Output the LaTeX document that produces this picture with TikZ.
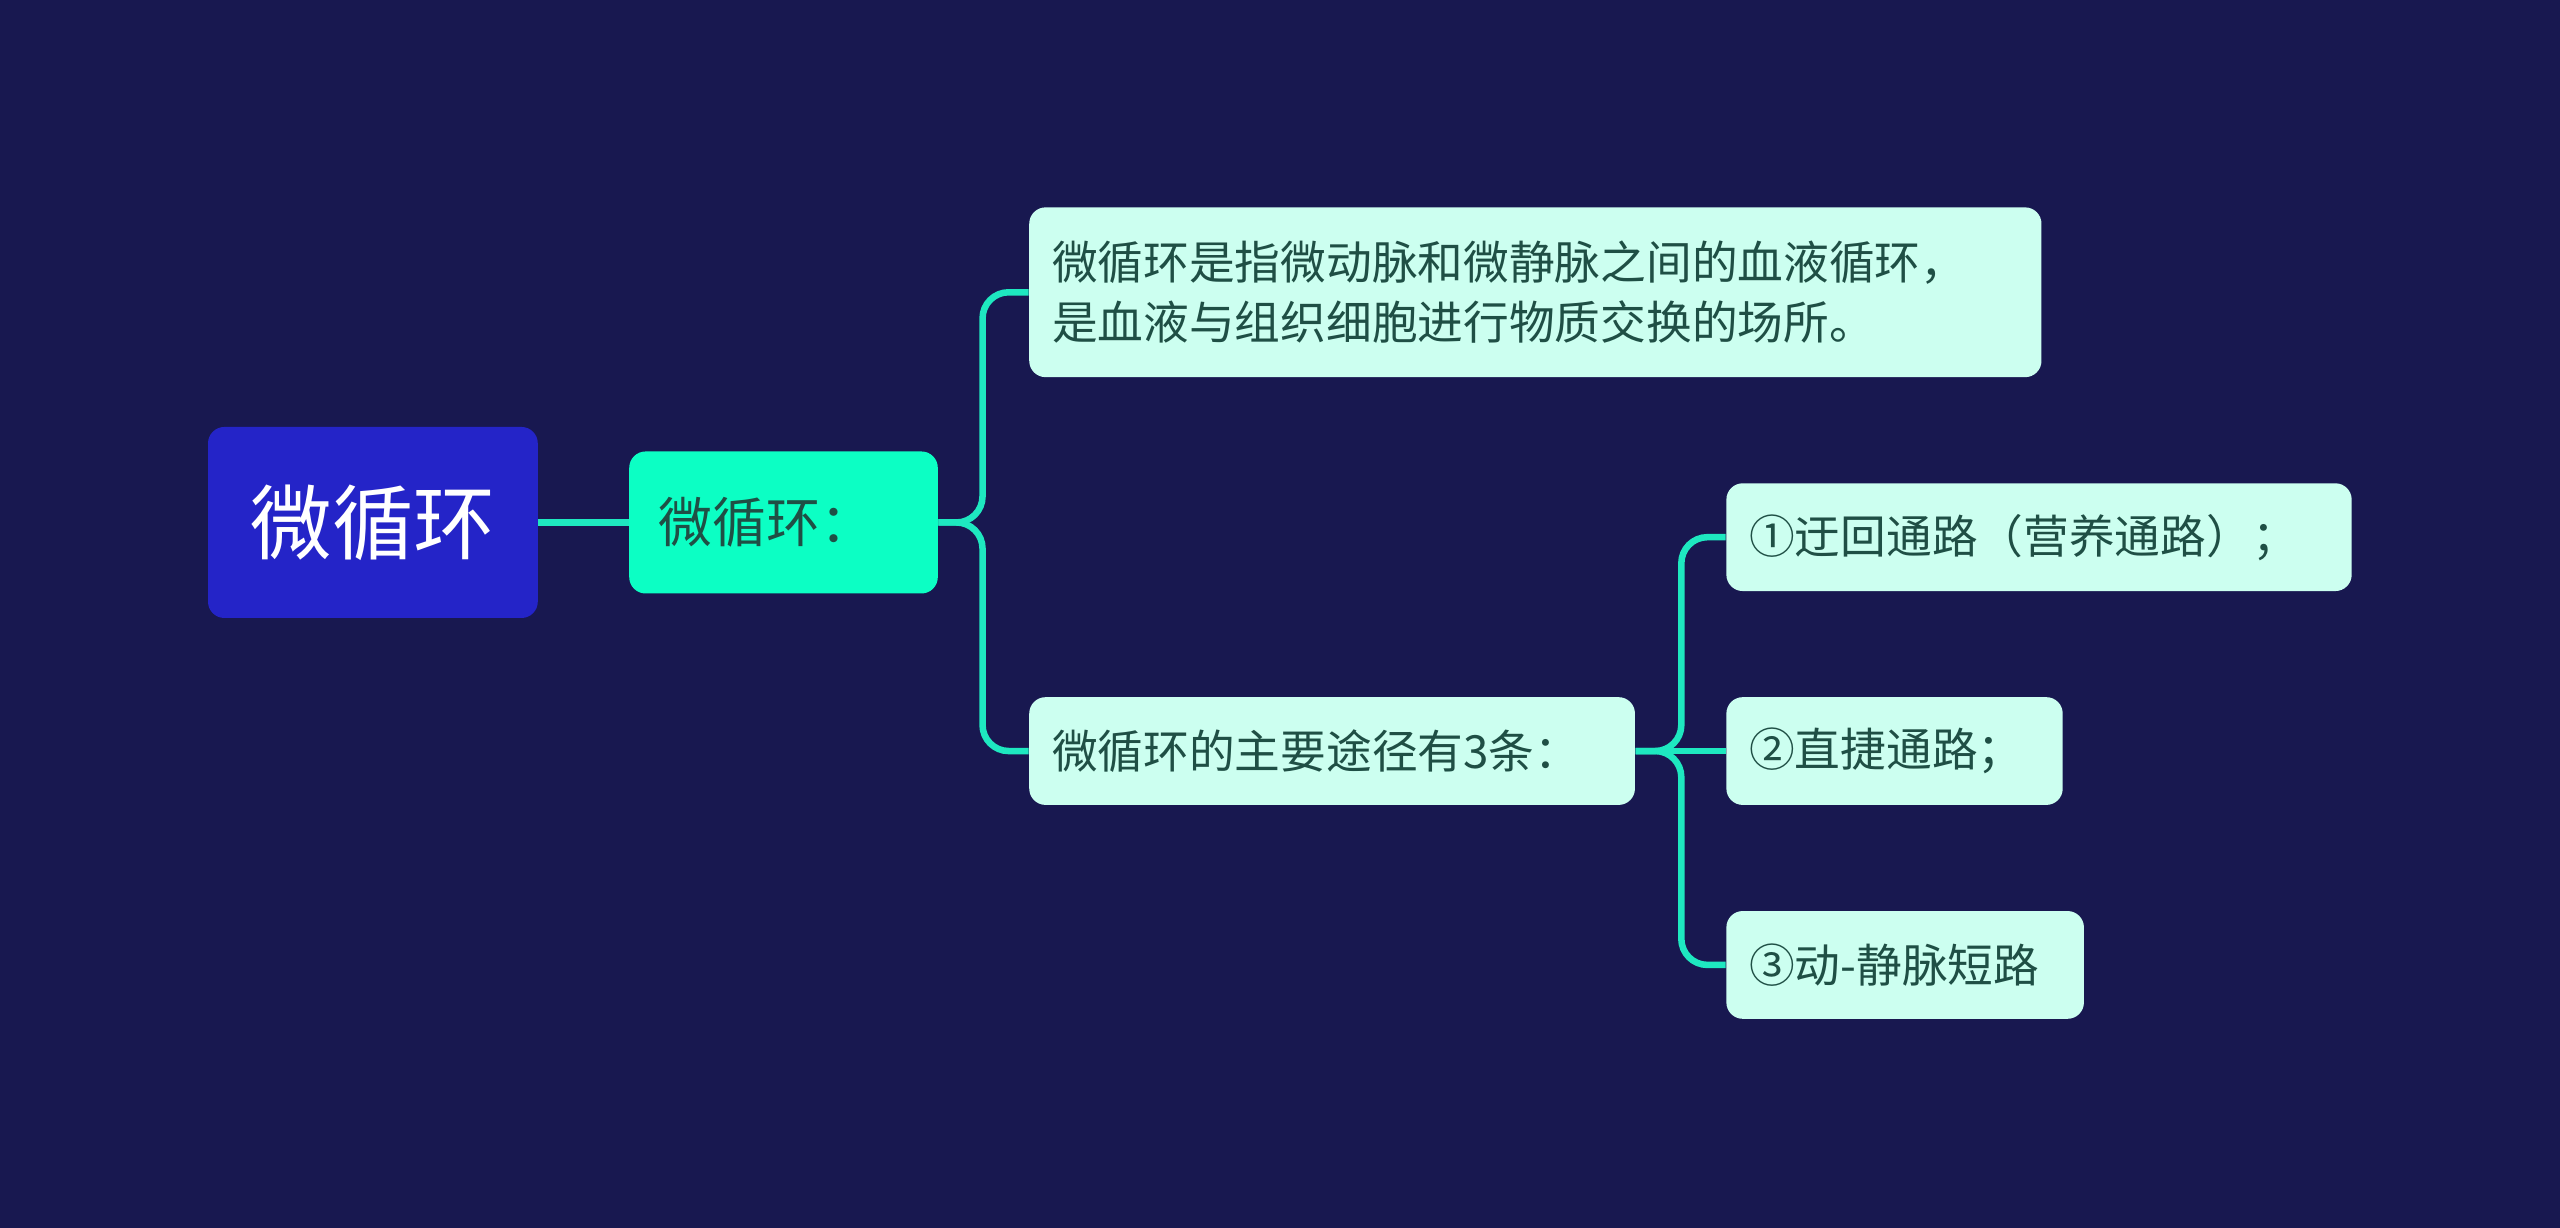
\documentclass[tikz,border=0pt]{standalone}
\usepackage{fontspec}
\newfontfamily\cjk{Noto Sans CJK SC}
\definecolor{bgc}{HTML}{181850}
\definecolor{rootc}{HTML}{2424C8}
\definecolor{lonec}{HTML}{0CFFC4}
\definecolor{leafc}{HTML}{CCFFF0}
\definecolor{linec}{HTML}{1EE8C0}
\definecolor{txtc}{HTML}{1F4F45}
\tikzset{
  box/.style={rounded corners=5pt, anchor=west, inner xsep=0pt, inner ysep=0pt, font=\cjk},
  leaf/.style={box, fill=leafc, text=txtc, font=\cjk\fontsize{14}{18.5}\selectfont, minimum height=33pt},
  link/.style={draw=linec, line width=2pt, rounded corners=8pt}
}
\begin{document}
\begin{tikzpicture}[x=0.5pt, y=-0.5pt]
  \fill[bgc] (0,0) rectangle (1568,752);
  \useasboundingbox (0,0) rectangle (1568,752);
  % nodes
  \node[box, fill=rootc, text=white, font=\cjk\fontsize{25}{30}\selectfont,
        minimum width=101pt, minimum height=58.5pt, align=center] (root) at (127,320) {微循环};
  \node[box, fill=lonec, text=txtc, font=\cjk\fontsize{16.5}{20}\selectfont,
        minimum width=94.5pt, minimum height=43.5pt, inner xsep=9pt, align=left, text width=76.5pt] (main) at (385,320) {微循环：};
  \node[leaf, minimum height=52pt, inner xsep=7pt, text width=296pt, align=left] (defn) at (630,179)
        {微循环是指微动脉和微静脉之间的血液循环，\\是血液与组织细胞进行物质交换的场所。};
  \node[leaf, text width=171.5pt, inner xsep=7pt, align=left] (ways) at (630,460) {微循环的主要途径有3条：};
  \node[leaf, text width=177.5pt, inner xsep=7pt, align=left] (wayA) at (1057,329) {①迂回通路（营养通路）；};
  \node[leaf, text width=89pt, inner xsep=7pt, align=left] (wayB) at (1057,460) {②直捷通路；};
  \node[leaf, text width=95.5pt, inner xsep=7pt, align=left] (wayC) at (1057,591) {③动-静脉短路};
  % connectors
  \draw[link] (root.east) -- (main.west);
  \draw[link] (main.east) -- ++(27,0) |- (defn.west);
  \draw[link] (main.east) -- ++(27,0) |- (ways.west);
  \draw[link] (ways.east) -- ++(28,0) |- (wayA.west);
  \draw[link] (ways.east) -- (wayB.west);
  \draw[link] (ways.east) -- ++(28,0) |- (wayC.west);
\end{tikzpicture}
\end{document}
